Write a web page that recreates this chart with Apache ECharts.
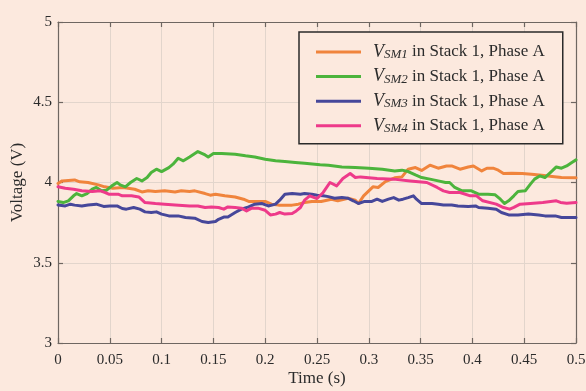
<!DOCTYPE html>
<html>
<head>
<meta charset="utf-8">
<script src="https://cdn.jsdelivr.net/npm/echarts@6/dist/echarts.min.js"></script>
<style>
  html, body { margin: 0; padding: 0; background: #fce9de; }
  #chart { width: 586px; height: 391px; }
</style>
</head>
<body>
<div id="chart"></div>
<script>
// Sub-module capacitor voltages, [time (s), voltage (V)]
const vSM1 = [[0,3.994],[0.004,4.01],[0.016,4.016],[0.021,4.004],[0.029,4.0],[0.039,3.985],[0.045,3.973],[0.053,3.964],[0.063,3.969],[0.074,3.958],[0.081,3.941],[0.087,3.948],[0.094,3.944],[0.103,3.948],[0.113,3.941],[0.119,3.948],[0.127,3.944],[0.132,3.948],[0.142,3.931],[0.147,3.921],[0.152,3.927],[0.161,3.917],[0.171,3.91],[0.179,3.896],[0.184,3.882],[0.193,3.882],[0.2,3.882],[0.206,3.865],[0.213,3.859],[0.219,3.859],[0.226,3.859],[0.232,3.865],[0.238,3.875],[0.245,3.882],[0.254,3.882],[0.264,3.896],[0.27,3.886],[0.28,3.902],[0.287,3.89],[0.29,3.869],[0.295,3.917],[0.3,3.948],[0.304,3.973],[0.309,3.969],[0.316,4.006],[0.325,4.029],[0.332,4.035],[0.338,4.083],[0.345,4.093],[0.351,4.075],[0.359,4.108],[0.367,4.089],[0.375,4.103],[0.38,4.103],[0.388,4.083],[0.396,4.097],[0.401,4.103],[0.409,4.072],[0.414,4.089],[0.42,4.089],[0.425,4.077],[0.43,4.056],[0.438,4.058],[0.448,4.056],[0.457,4.052],[0.467,4.045],[0.477,4.037],[0.486,4.031],[0.5,4.029]];
const vSM2 = [[0,3.882],[0.005,3.875],[0.01,3.886],[0.015,3.917],[0.018,3.931],[0.023,3.917],[0.028,3.931],[0.033,3.958],[0.037,3.969],[0.042,3.948],[0.047,3.952],[0.052,3.979],[0.057,4.0],[0.06,3.985],[0.065,3.973],[0.07,4.0],[0.076,4.025],[0.081,4.01],[0.086,4.031],[0.09,4.062],[0.095,4.083],[0.1,4.068],[0.107,4.093],[0.111,4.114],[0.116,4.151],[0.121,4.135],[0.127,4.159],[0.135,4.193],[0.142,4.172],[0.145,4.159],[0.15,4.181],[0.158,4.181],[0.171,4.176],[0.181,4.166],[0.19,4.159],[0.2,4.145],[0.21,4.135],[0.219,4.131],[0.229,4.125],[0.238,4.12],[0.253,4.11],[0.261,4.108],[0.274,4.097],[0.287,4.093],[0.3,4.089],[0.313,4.083],[0.325,4.072],[0.332,4.077],[0.338,4.068],[0.345,4.047],[0.351,4.031],[0.359,4.021],[0.367,4.01],[0.374,4.0],[0.378,4.0],[0.383,3.969],[0.39,3.948],[0.399,3.948],[0.406,3.927],[0.415,3.927],[0.422,3.923],[0.427,3.896],[0.431,3.869],[0.435,3.886],[0.44,3.917],[0.444,3.944],[0.451,3.948],[0.456,3.99],[0.46,4.021],[0.465,4.041],[0.47,4.031],[0.477,4.072],[0.481,4.097],[0.486,4.089],[0.491,4.103],[0.496,4.125],[0.5,4.141]];
const vSM3 = [[0,3.86],[0.007,3.854],[0.012,3.865],[0.016,3.859],[0.023,3.854],[0.029,3.86],[0.037,3.865],[0.044,3.851],[0.05,3.854],[0.057,3.854],[0.062,3.838],[0.066,3.834],[0.073,3.844],[0.079,3.834],[0.084,3.817],[0.09,3.813],[0.095,3.817],[0.1,3.803],[0.107,3.792],[0.116,3.792],[0.123,3.782],[0.132,3.778],[0.139,3.757],[0.145,3.751],[0.152,3.757],[0.155,3.771],[0.16,3.785],[0.164,3.785],[0.171,3.813],[0.177,3.834],[0.184,3.848],[0.19,3.865],[0.197,3.869],[0.203,3.854],[0.21,3.865],[0.214,3.89],[0.219,3.927],[0.226,3.931],[0.234,3.927],[0.238,3.931],[0.245,3.927],[0.25,3.92],[0.256,3.917],[0.261,3.912],[0.267,3.902],[0.274,3.906],[0.28,3.902],[0.285,3.886],[0.29,3.869],[0.296,3.882],[0.303,3.882],[0.308,3.896],[0.313,3.882],[0.319,3.896],[0.324,3.906],[0.329,3.89],[0.333,3.896],[0.338,3.906],[0.343,3.917],[0.346,3.896],[0.351,3.869],[0.361,3.869],[0.367,3.865],[0.372,3.86],[0.38,3.86],[0.386,3.854],[0.396,3.851],[0.403,3.854],[0.406,3.844],[0.415,3.84],[0.423,3.834],[0.428,3.813],[0.435,3.798],[0.444,3.798],[0.454,3.803],[0.464,3.798],[0.47,3.792],[0.48,3.792],[0.486,3.782],[0.5,3.782]];
const vSM4 = [[0,3.973],[0.007,3.964],[0.015,3.958],[0.023,3.948],[0.033,3.944],[0.041,3.948],[0.045,3.938],[0.049,3.927],[0.058,3.927],[0.062,3.917],[0.071,3.917],[0.078,3.91],[0.084,3.875],[0.094,3.869],[0.103,3.865],[0.113,3.86],[0.127,3.854],[0.135,3.854],[0.142,3.844],[0.148,3.848],[0.155,3.844],[0.16,3.834],[0.164,3.848],[0.171,3.844],[0.177,3.84],[0.182,3.823],[0.187,3.84],[0.193,3.84],[0.2,3.827],[0.205,3.798],[0.21,3.803],[0.214,3.813],[0.219,3.803],[0.226,3.807],[0.23,3.823],[0.234,3.844],[0.238,3.89],[0.243,3.917],[0.25,3.9],[0.256,3.938],[0.2625,4.0],[0.269,3.979],[0.275,4.025],[0.282,4.056],[0.287,4.031],[0.292,4.035],[0.308,4.025],[0.324,4.021],[0.34,4.01],[0.356,4.0],[0.366,3.969],[0.372,3.948],[0.378,3.938],[0.388,3.938],[0.398,3.917],[0.404,3.917],[0.41,3.886],[0.423,3.865],[0.43,3.844],[0.436,3.834],[0.44,3.845],[0.446,3.865],[0.456,3.869],[0.468,3.875],[0.481,3.886],[0.485,3.876],[0.491,3.871],[0.5,3.875]];

const seriesNames = ['SM1', 'SM2', 'SM3', 'SM4'];
const seriesData = [vSM1, vSM2, vSM3, vSM4];
const seriesColors = ['#f0843c', '#4cb43c', '#46479a', '#ee3a8a'];

const xTicks = { min: 0, max: 0.5, interval: 0.05 };
const yTicks = { min: 3, max: 5, interval: 0.5 };

const axisColor = '#6e6661';
const gridColor = '#e2d5cc';
const textColor = '#2b2b2b';
const serif = '"Liberation Serif", "DejaVu Serif", serif';

const chart = echarts.init(document.getElementById('chart'), null, { renderer: 'canvas' });

function baseAxis(extra) {
  return Object.assign({
    type: 'value',
    axisLine: { show: true, onZero: false, lineStyle: { color: axisColor, width: 1.2 } },
    axisTick: { show: true, inside: true, length: 5, lineStyle: { color: axisColor, width: 1.2 } },
    axisLabel: { color: textColor, fontFamily: serif, fontSize: 15 },
    splitLine: { show: false }
  }, extra);
}

const option = {
  backgroundColor: '#fce9de',
  animation: false,
  grid: { left: 58, right: 10, top: 22, bottom: 48, containLabel: false, outerBoundsMode: 'none' },
  xAxis: [
    baseAxis(Object.assign({}, xTicks, {
      position: 'bottom',
      name: 'Time (s)',
      nameLocation: 'middle',
      nameGap: 27,
      nameMoveOverlap: false,
      nameTextStyle: { color: textColor, fontFamily: serif, fontSize: 17 },
      axisLabel: { color: textColor, fontFamily: serif, fontSize: 15, margin: 10,
        formatter: v => String(+v.toFixed(2)) },
      splitLine: { show: true, lineStyle: { color: gridColor, width: 1 } }
    })),
    baseAxis(Object.assign({}, xTicks, {
      position: 'top',
      axisLabel: { show: false }
    }))
  ],
  yAxis: [
    baseAxis(Object.assign({}, yTicks, {
      position: 'left',
      name: 'Voltage (V)',
      nameLocation: 'middle',
      nameGap: 32,
      nameMoveOverlap: false,
      nameTextStyle: { color: textColor, fontFamily: serif, fontSize: 17 },
      axisLabel: { color: textColor, fontFamily: serif, fontSize: 15, margin: 6,
        formatter: v => String(+v.toFixed(1)) },
      splitLine: { show: true, lineStyle: { color: gridColor, width: 1 } }
    })),
    baseAxis(Object.assign({}, yTicks, {
      position: 'right',
      axisLabel: { show: false }
    }))
  ],
  legend: {
    orient: 'vertical',
    left: 299,
    top: 32,
    padding: [10, 18, 9, 17],
    itemGap: 5.6,
    itemWidth: 45,
    itemHeight: 3,
    icon: 'rect',
    borderColor: '#2a2a2a',
    borderWidth: 1.5,
    backgroundColor: '#fce9de',
    data: seriesNames,
    formatter: name => '{v|V}{s|' + name + '}{t| in Stack 1, Phase A}',
    textStyle: {
      padding: [0, 0, 0, 7],
      rich: {
        v: { fontFamily: serif, fontStyle: 'italic', fontSize: 18, color: textColor, lineHeight: 18 },
        s: { fontFamily: serif, fontStyle: 'italic', fontSize: 13, color: textColor, verticalAlign: 'bottom', padding: [6, 0, 0, 0], lineHeight: 18 },
        t: { fontFamily: serif, fontSize: 17, color: textColor, lineHeight: 18 }
      }
    }
  },
  series: seriesNames.map((name, i) => ({
    name: name,
    type: 'line',
    xAxisIndex: 0,
    yAxisIndex: 0,
    data: seriesData[i],
    showSymbol: false,
    symbol: 'none',
    color: seriesColors[i],
    lineStyle: { width: 3, color: seriesColors[i], join: 'round', cap: 'round' },
    z: 2 + i
  }))
};

chart.setOption(option);
</script>
</body>
</html>
